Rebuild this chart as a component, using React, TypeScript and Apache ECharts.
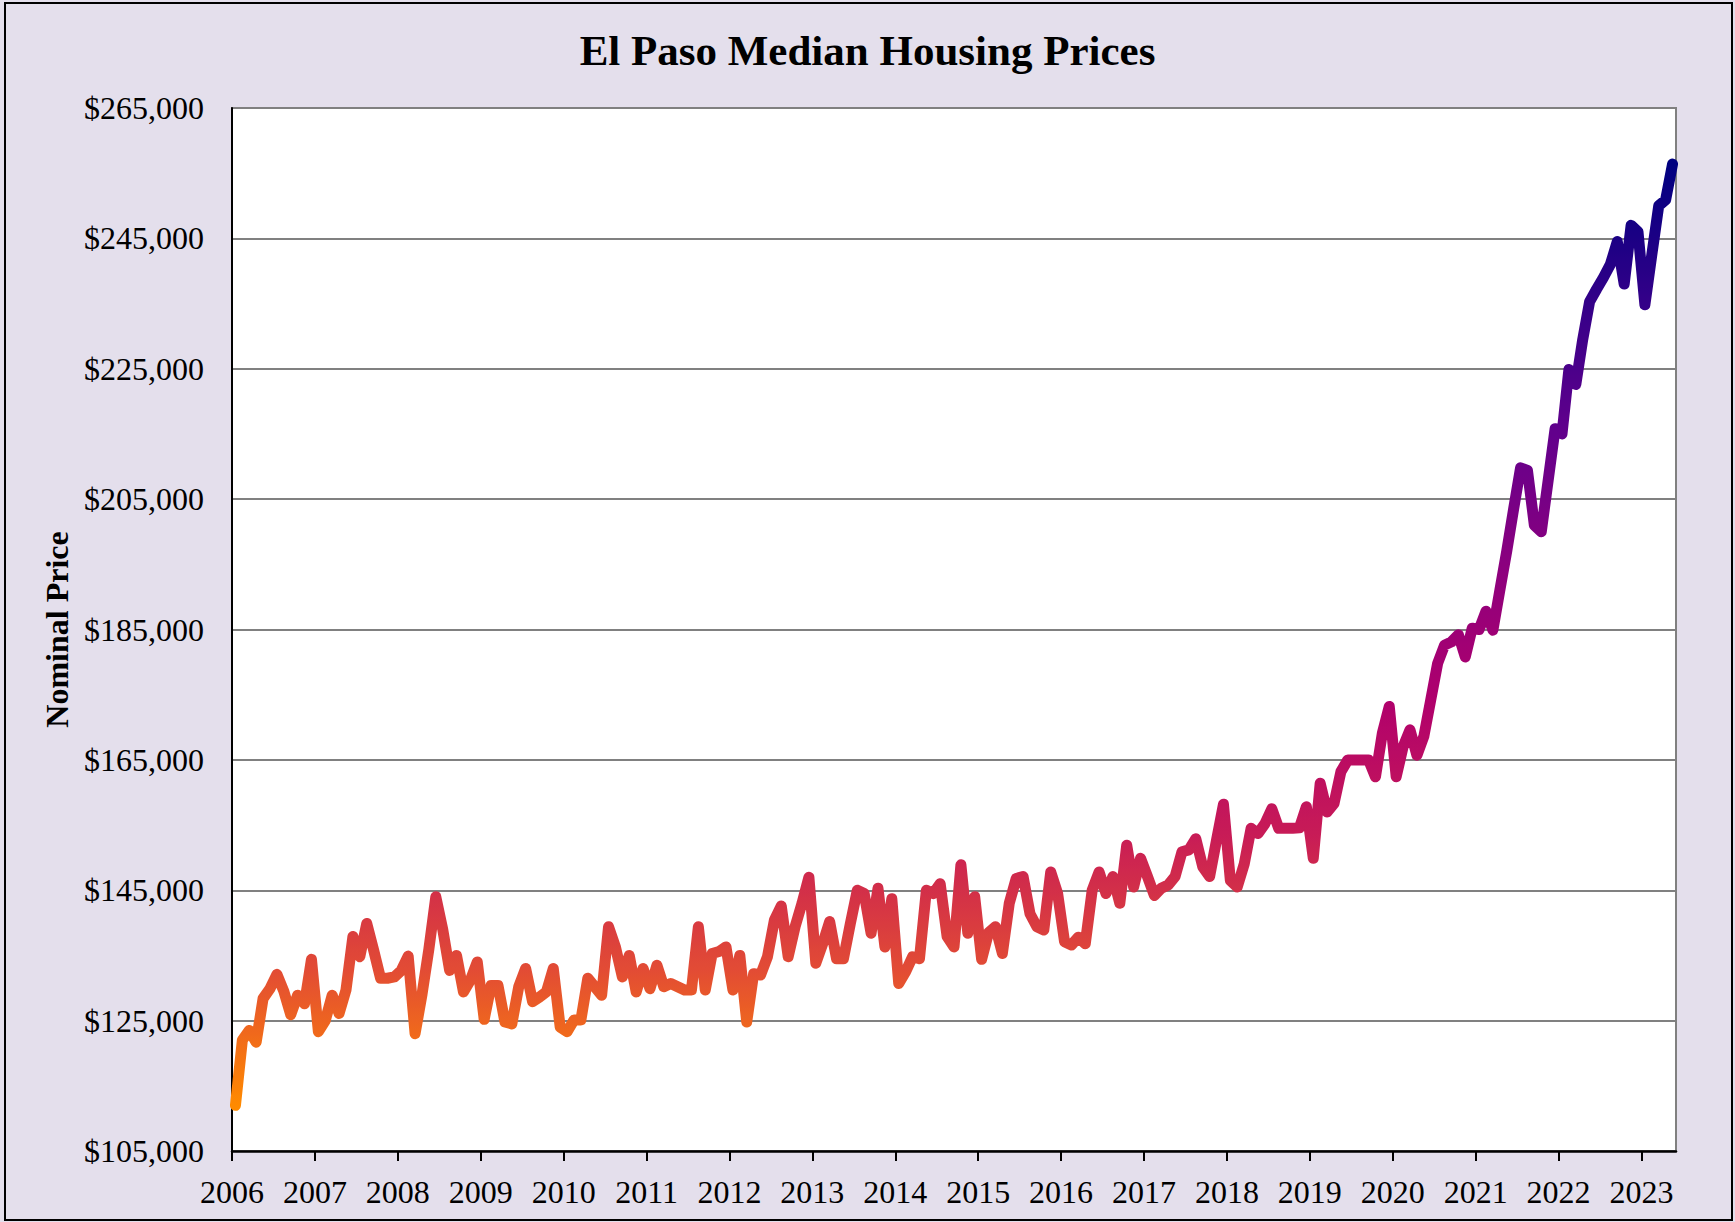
import React, { useEffect, useRef } from "react";
import * as echarts from "echarts";

const FONT = "'Liberation Serif', 'Times New Roman', Times, serif";

const TITLE = "El Paso Median Housing Prices";
const Y_NAME = "Nominal Price";

// Year ticks on the x axis (x is measured in months since Jan 2006)
const YEARS = [2006, 2007, 2008, 2009, 2010, 2011, 2012, 2013, 2014, 2015, 2016, 2017, 2018, 2019, 2020, 2021, 2022, 2023];
const FIRST_YEAR = 2006;
const AXIS_END_MONTHS = 209; // Jun 2023
const MID_MONTH = 0.5; // monthly medians plotted at mid-month

// Y-axis tick values
const Y_TICKS = [105000, 125000, 145000, 165000, 185000, 205000, 225000, 245000, 265000];

// Monthly median prices (USD)
const p2006 = [112000, 122000, 123500, 121700, 128400, 129900, 132100, 129500, 125900, 128900, 127600, 134400];
const p2007 = [123300, 125000, 128900, 126100, 129700, 137900, 134800, 139900, 135800, 131500, 131500, 131700];
const p2008 = [132700, 134900, 123000, 129000, 136000, 144000, 139000, 132700, 135000, 129400, 131200, 134000];
const p2009 = [125200, 130400, 130400, 124800, 124500, 130200, 133000, 127900, 128600, 129400, 133000, 124000];
const p2010 = [123300, 125100, 125100, 131500, 130200, 128900, 139400, 136300, 131700, 135000, 129400, 133000];
const p2011 = [129900, 133500, 130200, 130700, 130200, 129700, 129700, 139400, 129700, 135300, 135600, 136300];
const p2012 = [129700, 135000, 124800, 132200, 132000, 134800, 140400, 142600, 134800, 139400, 143000, 147000];
const p2013 = [133800, 136800, 140200, 134500, 134500, 139900, 145000, 144500, 138400, 145300, 136300, 143700];
const p2014 = [130700, 132500, 134800, 134500, 145000, 144500, 146000, 137900, 136300, 148900, 138400, 144000];
const p2015 = [134400, 138500, 139400, 135300, 143000, 146800, 147100, 141400, 139400, 138900, 147800, 144500];
const p2016 = [137100, 136600, 137800, 136800, 145000, 147800, 144500, 147100, 143000, 151900, 145500, 149900];
const p2017 = [147100, 144200, 145300, 145800, 147100, 150900, 151200, 152900, 148600, 147100, 152700, 158200];
const p2018 = [146500, 145500, 149000, 154500, 153700, 155200, 157500, 154500, 154500, 154500, 154600, 157800];
const p2019 = [149900, 161400, 157000, 158300, 163200, 165000, 165000, 165000, 165000, 162400, 169100, 173200];
const p2020 = [162400, 167000, 169600, 165700, 168600, 174200, 179800, 182600, 183100, 184200, 180800, 185200];
const p2021 = [185000, 187800, 184900, 191000, 197000, 203500, 209800, 209400, 201000, 200000, 207900, 215800];
const p2022 = [215000, 224900, 222600, 229500, 235300, 237200, 239000, 241000, 244500, 238000, 247000, 246000];
const p2023 = [234800, 242500, 250000, 250900, 256400];

// Line colour ramp, low price -> high price
const LINE_COLORS = ["#ff8a00", "#e24c34", "#c81c56", "#b0006c", "#8c007e", "#62008c", "#320088", "#000080"];

const PRICES = [
  ...p2006, ...p2007, ...p2008, ...p2009, ...p2010, ...p2011, ...p2012, ...p2013, ...p2014,
  ...p2015, ...p2016, ...p2017, ...p2018, ...p2019, ...p2020, ...p2021, ...p2022, ...p2023,
];

const SERIES_DATA = PRICES.map((v, i) => [i + MID_MONTH, v]);
const YEAR_TICKS = YEARS.map((y) => (y - FIRST_YEAR) * 12);

const money = (v: number) => "$" + Math.round(v).toLocaleString("en-US");

export default function App() {
  const ref = useRef<HTMLDivElement>(null);

  useEffect(() => {
    if (!ref.current) return;
    const chart = echarts.init(ref.current, undefined, { renderer: "svg" });
    const yMin = Y_TICKS[0];
    const yMax = Y_TICKS[Y_TICKS.length - 1];
    const yInterval = Y_TICKS[1] - Y_TICKS[0];

    chart.setOption({
      animation: false,
      backgroundColor: "#e4dfec",
      textStyle: { fontFamily: FONT },
      title: {
        text: TITLE,
        left: "center",
        top: 24,
        textStyle: { fontFamily: FONT, fontSize: 43, fontWeight: "bold", color: "#000" },
      },
      grid: {
        left: 232,
        right: 59,
        top: 108,
        bottom: 71,
        show: true,
        backgroundColor: "#ffffff",
        borderColor: "#808080",
        borderWidth: 2,
      },
      xAxis: {
        type: "value",
        min: 0,
        max: AXIS_END_MONTHS,
        interval: 12,
        axisLine: { show: true, onZero: false, lineStyle: { color: "#000", width: 2.5 } },
        axisTick: {
          show: true,
          customValues: YEAR_TICKS,
          length: 10,
          lineStyle: { color: "#000", width: 2 },
        },
        axisLabel: {
          customValues: YEAR_TICKS,
          formatter: (v: number) => String(FIRST_YEAR + Math.round(v / 12)),
          fontFamily: FONT,
          fontSize: 32,
          color: "#000",
          margin: 25,
        },
        splitLine: { show: false },
      },
      yAxis: {
        type: "value",
        min: yMin,
        max: yMax,
        interval: yInterval,
        name: Y_NAME,
        nameLocation: "middle",
        nameRotate: 90,
        nameGap: 155,
        nameTextStyle: { fontFamily: FONT, fontSize: 32, fontWeight: "bold", color: "#000" },
        axisLine: { show: true, lineStyle: { color: "#000", width: 2 } },
        axisTick: { show: false },
        axisLabel: {
          formatter: (v: number) => money(v),
          fontFamily: FONT,
          fontSize: 32,
          color: "#000",
          margin: 28,
        },
        splitLine: { show: true, lineStyle: { color: "#808080", width: 2 } },
      },
      visualMap: {
        show: false,
        type: "continuous",
        dimension: 1,
        seriesIndex: 0,
        min: Math.min(...PRICES),
        max: Math.max(...PRICES),
        inRange: { color: LINE_COLORS },
      },
      series: [
        {
          type: "line",
          data: SERIES_DATA,
          symbol: "none",
          showSymbol: false,
          smooth: false,
          clip: true,
          lineStyle: { width: 11, cap: "round", join: "round" },
        },
      ],
      graphic: [
        {
          type: "rect",
          silent: true,
          shape: { x: 5, y: 3, width: 1727, height: 1217 },
          style: { fill: "none", stroke: "#000", lineWidth: 2 },
        },
      ],
    });
    return () => chart.dispose();
  }, []);

  return (
    <div style={{ position: "absolute", left: 0, top: 0, width: 1735, height: 1222 }}>
      <div ref={ref} style={{ width: 1735, height: 1222 }} />
    </div>
  );
}
